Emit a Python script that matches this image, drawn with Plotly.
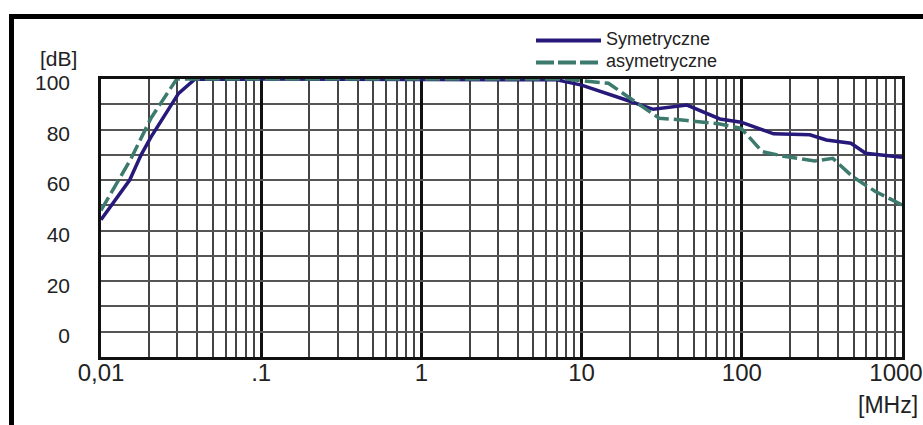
import plotly.graph_objects as go

# ---- data ----
sym_freq = [0.01, 0.0151, 0.0178, 0.0205, 0.0305, 0.0387, 7, 10, 19, 28, 45.5, 73, 99, 158, 266, 337, 480, 593, 1000]
sym_db = [44.3, 60, 70, 77, 94.3, 100, 99.7, 97.6, 91.7, 88, 89.7, 84.2, 82.9, 78.3, 77.9, 75.9, 74.6, 70.6, 69]

asym_freq = [0.01, 0.0154, 0.0205, 0.0297, 8, 10.6, 14.7, 20.5, 30.5, 45.5, 73, 99, 134, 187, 286, 370, 491, 682, 1000]
asym_db = [48, 68.5, 84.5, 100, 100, 99.3, 98.3, 92, 84.5, 83.6, 82.2, 80.5, 71.3, 69.3, 67.6, 68.6, 61.4, 55.5, 50.2]

x_tick_vals = [0.01, 0.1, 1, 10, 100, 1000]
x_tick_text = ["0,01", ".1", "1", "10", "100", "1000\u2002"]
y_tick_vals = [0, 20, 40, 60, 80, 100]
y_minor_vals = [-10, 10, 30, 50, 70, 90]
x_minor_vals = [k * 10 ** e for e in range(-2, 3) for k in range(2, 10)]

series_names = ["Symetryczne", "asymetryczne"]
sym_color = "#27197a"
asym_color = "#3c7a6d"

W, H = 923, 425
L, R, T, B = 101, 902, 79, 357
FONT = "Liberation Sans, Arial, sans-serif"


def px(x):
    return (x - L) / (R - L)


def py(y):
    return (B - y) / (B - T)


fig = go.Figure()
fig.add_trace(go.Scatter(x=sym_freq, y=sym_db, mode="lines", name=series_names[0],
                         line=dict(color=sym_color, width=3.5), showlegend=False))
fig.add_trace(go.Scatter(x=asym_freq, y=asym_db, mode="lines", name=series_names[1],
                         line=dict(color=asym_color, width=3.5, dash="15px,5px"), showlegend=False))

shapes = [
    # outer black frame (top and left)
    dict(type="rect", xref="paper", yref="paper", x0=px(9), x1=px(W), y0=py(19), y1=py(14),
         fillcolor="black", line=dict(width=0), layer="above"),
    dict(type="rect", xref="paper", yref="paper", x0=px(9), x1=px(14), y0=py(H), y1=py(14),
         fillcolor="black", line=dict(width=0), layer="above"),
    # legend samples
    dict(type="line", xref="paper", yref="paper", x0=px(536), x1=px(601), y0=py(40.5), y1=py(40.5),
         line=dict(color=sym_color, width=4)),
    dict(type="line", xref="paper", yref="paper", x0=px(536), x1=px(601), y0=py(62.5), y1=py(62.5),
         line=dict(color=asym_color, width=4, dash="18px,4px")),
]

annotations = [
    dict(text=series_names[0], xref="paper", yref="paper", x=px(604), y=py(38.5), xanchor="left",
         yanchor="middle", showarrow=False, font=dict(family=FONT, size=18, color="#222")),
    dict(text=series_names[1], xref="paper", yref="paper", x=px(604), y=py(61), xanchor="left",
         yanchor="middle", showarrow=False, font=dict(family=FONT, size=18, color="#222")),
    dict(text="[dB]", xref="paper", yref="paper", x=px(58), y=py(58), xanchor="center",
         yanchor="middle", showarrow=False, font=dict(family=FONT, size=21, color="#222")),
    dict(text="[MHz]", xref="paper", yref="paper", x=px(888), y=py(405), xanchor="center",
         yanchor="middle", showarrow=False, font=dict(family=FONT, size=23, color="#222")),
]

fig.update_layout(
    template="none",
    width=W, height=H,
    margin=dict(l=L, r=W - R, t=T, b=H - B, pad=0, autoexpand=False),
    paper_bgcolor="white", plot_bgcolor="white",
    shapes=shapes, annotations=annotations,
    font=dict(family=FONT, color="#222"),
    xaxis=dict(type="log", range=[-2, 3], tickmode="array", tickvals=x_tick_vals, ticktext=x_tick_text,
               tickfont=dict(size=24), ticks="", showgrid=True, gridcolor="#111", gridwidth=2.5,
               showline=True, mirror=True, linecolor="#111", linewidth=2.5, zeroline=False,
               minor=dict(tickmode="array", tickvals=x_minor_vals, showgrid=True, gridcolor="#444",
                          gridwidth=1.8, ticks=""),
               automargin=False,
               layer="below traces", ticklabelstandoff=-8, ticklabeloverflow="allow"),
    yaxis=dict(range=[-10, 100], tickmode="array", tickvals=y_tick_vals,
               tickfont=dict(size=21), ticks="", showgrid=True, gridcolor="#555", gridwidth=1.8,
               showline=True, mirror=True, linecolor="#111", linewidth=2.5, zeroline=False,
               minor=dict(tickmode="array", tickvals=y_minor_vals, showgrid=True, gridcolor="#555",
                          gridwidth=1.8, ticks=""),
               automargin=False,
               layer="below traces", ticklabelstandoff=24, ticklabelshift=4),
)

post = ("document.documentElement.style.margin='0';document.documentElement.style.overflow='hidden';"
        "document.body.style.margin='0';document.body.style.overflow='hidden';")
fig.write_html("out.html", config={"displayModeBar": False}, post_script=post)
